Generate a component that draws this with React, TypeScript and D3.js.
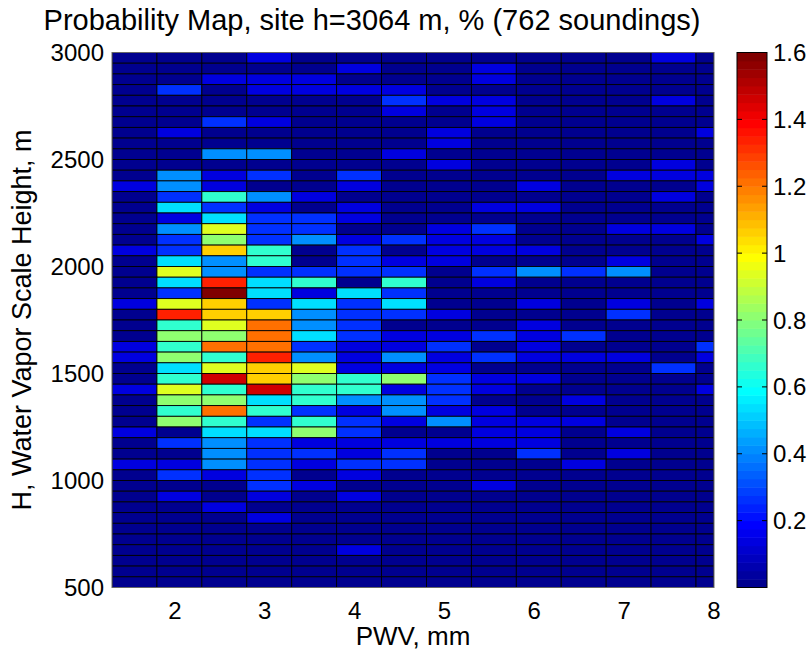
import React from 'react';
import * as d3 from 'd3';

// PWV bin left edges (mm), each bin 0.5 mm wide
const pwvEdges = [1.3, 1.8, 2.3, 2.8, 3.3, 3.8, 4.3, 4.8, 5.3, 5.8, 6.3, 6.8, 7.3, 7.8];
const pwvBinWidth = 0.5;
// Height bin upper edges (m), top row first; each bin 50 m tall
const heightTops = d3.range(3000, 500, -50);
const heightBinWidth = 50;

const xTicks = [2, 3, 4, 5, 6, 7, 8];
const yTicks = [500, 1000, 1500, 2000, 2500, 3000];
const cTicks = [0.2, 0.4, 0.6, 0.8, 1, 1.2, 1.4, 1.6];

const xDomain = [1.3, 8.0];
const yDomain = [500, 3000];
const cDomain = [0, 1.6];

const titleText = 'Probability Map, site h=3064 m, % (762 soundings)';
const xLabel = 'PWV, mm';
const yLabel = 'H, Water Vapor Scale Height, m';

// Probability (%) per cell; rows from 3000 m down to 500 m, columns by PWV bin
const probability: number[][] = [
  [0, 0, 0, .13, 0, 0, 0, 0, 0, 0, 0, 0, .13, 0],
  [0, 0, 0, 0, 0, .13, 0, 0, .13, 0, 0, 0, 0, 0],
  [0, 0, .13, .13, .13, 0, 0, 0, .13, 0, 0, 0, 0, 0],
  [0, .27, 0, .13, .13, .13, .13, 0, 0, 0, 0, 0, 0, 0],
  [0, 0, 0, 0, 0, 0, .27, .13, .13, 0, 0, 0, .13, 0],
  [0, 0, 0, 0, 0, 0, .13, 0, .13, 0, 0, 0, 0, 0],
  [0, 0, .27, .13, 0, 0, 0, 0, .13, 0, 0, 0, 0, 0],
  [0, .13, 0, 0, 0, 0, 0, .13, 0, 0, 0, 0, 0, .13],
  [0, 0, 0, 0, 0, 0, 0, .13, 0, 0, 0, 0, 0, 0],
  [0, 0, .4, .4, 0, 0, .13, 0, 0, 0, 0, 0, 0, 0],
  [0, 0, 0, 0, 0, 0, 0, .13, 0, 0, 0, 0, .13, 0],
  [0, .4, .13, .27, 0, .27, 0, 0, 0, 0, 0, .13, .13, .13],
  [.13, .4, .13, 0, 0, .13, 0, 0, 0, .13, 0, 0, 0, .13],
  [0, .27, .67, .4, .13, 0, 0, 0, 0, 0, 0, 0, .13, 0],
  [0, .53, .27, .13, 0, .13, 0, 0, .13, .13, 0, 0, 0, 0],
  [0, .13, .53, .27, .27, .13, 0, 0, 0, 0, 0, 0, 0, 0],
  [0, .4, .93, .27, .27, 0, 0, .13, .27, 0, 0, .13, .13, 0],
  [0, .27, .8, .27, .4, .13, .27, .13, .13, 0, 0, 0, 0, .13],
  [.13, .27, 1.07, .67, 0, .27, 0, .13, .13, .13, 0, 0, 0, 0],
  [0, .53, .4, .67, 0, .27, .13, .13, 0, 0, 0, .13, 0, 0],
  [0, .93, .4, .27, .27, .27, .27, 0, .27, .4, .27, .4, 0, 0],
  [0, .53, 1.33, .53, .67, 0, .67, 0, .13, 0, 0, 0, 0, 0],
  [0, .27, 1.6, .53, .13, .53, .27, 0, 0, 0, 0, 0, 0, 0],
  [.13, .93, 1.07, .27, .53, .27, .53, 0, 0, .13, 0, .13, 0, .13],
  [0, 1.33, 1.07, 1.07, .4, .27, .27, .13, 0, 0, 0, .27, 0, 0],
  [0, .67, .93, 1.2, .4, .27, 0, 0, 0, .13, 0, 0, 0, 0],
  [0, .8, .8, 1.2, .53, .27, .13, .13, .27, .13, .27, 0, 0, 0],
  [.13, .67, 1.2, 1.2, .27, .13, .13, .27, 0, .13, 0, 0, 0, .27],
  [.13, .8, .67, 1.33, .4, .13, .4, .13, .27, .13, .13, .13, 0, .13],
  [0, .53, .93, 1.07, .93, .13, .13, .13, 0, 0, 0, 0, .27, 0],
  [0, .67, 1.47, 1.07, .8, .67, .8, .27, .13, .13, 0, 0, 0, 0],
  [.13, .93, .67, 1.47, .67, .67, .13, .27, .13, 0, 0, 0, 0, .13],
  [0, .8, .8, .53, .67, .4, .4, .27, 0, 0, .13, 0, 0, 0],
  [0, .67, 1.2, .67, .27, .13, .4, .13, .13, 0, 0, 0, 0, 0],
  [0, .8, .67, .27, .67, .27, .13, .4, .13, .13, .13, 0, 0, 0],
  [.13, 0, .53, .53, .8, .27, 0, 0, .13, .13, 0, .13, 0, 0],
  [0, .27, .4, .27, .13, .13, .13, .13, .13, .13, 0, 0, 0, 0],
  [0, 0, .4, .27, .27, .13, .27, 0, 0, .27, 0, .13, 0, 0],
  [.13, .13, .4, .27, .13, .27, .27, 0, 0, 0, .13, 0, 0, 0],
  [0, .27, .13, .27, 0, .13, 0, 0, 0, 0, 0, 0, 0, 0],
  [0, 0, 0, .27, .13, 0, 0, 0, .13, 0, 0, 0, 0, 0],
  [0, .13, 0, .13, 0, .13, 0, 0, 0, 0, 0, 0, 0, 0],
  [0, 0, .13, 0, 0, 0, 0, 0, 0, 0, 0, 0, 0, 0],
  [0, 0, 0, .13, 0, 0, 0, 0, 0, 0, 0, 0, 0, 0],
  [0, 0, 0, 0, 0, 0, 0, 0, 0, 0, 0, 0, 0, 0],
  [0, 0, 0, 0, 0, 0, 0, 0, 0, 0, 0, 0, 0, 0],
  [0, 0, 0, 0, 0, .13, 0, 0, 0, 0, 0, 0, 0, 0],
  [0, 0, 0, 0, 0, 0, 0, 0, 0, 0, 0, 0, 0, 0],
  [0, 0, 0, 0, 0, 0, 0, 0, 0, 0, 0, 0, 0, 0],
  [0, 0, 0, 0, 0, 0, 0, 0, 0, 0, 0, 0, 0, 0],
];

// MATLAB jet(64)
function jet(m: number): string[] {
  const n = Math.ceil(m / 4);
  const u: number[] = [];
  for (let i = 1; i <= n; i++) u.push(i / n);
  for (let i = 1; i < n; i++) u.push(1);
  for (let i = n; i >= 1; i--) u.push(i / n);
  const gOff = Math.ceil(n / 2) - (m % 4 === 1 ? 1 : 0);
  const J = Array.from({ length: m }, () => [0, 0, 0]);
  u.forEach((val, k) => {
    const g = gOff + k + 1;
    const r = g + n;
    const b = g - n;
    if (r >= 1 && r <= m) J[r - 1][0] = val;
    if (g >= 1 && g <= m) J[g - 1][1] = val;
    if (b >= 1 && b <= m) J[b - 1][2] = val;
  });
  return J.map(([r, g, b]) => d3.rgb(r * 255, g * 255, b * 255).formatHex());
}
const JET = jet(64);
function colorOf(v: number): string {
  let idx = Math.floor(((v - cDomain[0]) / (cDomain[1] - cDomain[0])) * 64 + 1e-9);
  idx = Math.max(0, Math.min(63, idx));
  return JET[idx];
}

const FONT = '"Liberation Sans", Arial, Helvetica, sans-serif';

export default function App() {
  const x = d3.scaleLinear().domain(xDomain).range([112, 714]);
  const y = d3.scaleLinear().domain(yDomain).range([587.5, 52.5]);
  const cy = d3.scaleLinear().domain(cDomain).range([587.5, 52.5]);
  const cbL = 737, cbR = 767;

  const cells: JSX.Element[] = [];
  probability.forEach((row, ri) => {
    const top = heightTops[ri];
    row.forEach((v, ci) => {
      const x0 = pwvEdges[ci];
      const x1 = Math.min(x0 + pwvBinWidth, xDomain[1]);
      cells.push(
        <rect key={`${ri}-${ci}`} x={x(x0)} y={y(top)} width={x(x1) - x(x0)}
          height={y(top - heightBinWidth) - y(top)} fill={colorOf(v)}
          stroke="#000" strokeWidth={0.9} />
      );
    });
  });

  const bands = d3.range(64).map(i => {
    const v0 = cDomain[0] + (i * (cDomain[1] - cDomain[0])) / 64;
    const v1 = cDomain[0] + ((i + 1) * (cDomain[1] - cDomain[0])) / 64;
    return <rect key={i} x={cbL} y={cy(v1)} width={cbR - cbL} height={cy(v0) - cy(v1) + 0.5} fill={JET[i]} />;
  });

  return (
    <svg width={810} height={659} style={{ position: 'absolute', left: 0, top: 0, background: '#fff' }}
      fontFamily={FONT}>
      <rect x={0} y={0} width={810} height={659} fill="#fff" />
      <defs>
        <clipPath id="plotClip">
          <rect x={112} y={52.5} width={602} height={535} />
        </clipPath>
      </defs>
      <g clipPath="url(#plotClip)">{cells}</g>
      <rect x={112} y={52.5} width={602} height={535} fill="none" stroke="#666" strokeWidth={1} />

      {yTicks.map(t => (
        <text key={t} x={104} y={y(t)} textAnchor="end" dominantBaseline="central" fontSize={24}>{t}</text>
      ))}
      {xTicks.map(t => (
        <text key={t} x={x(t)} y={610} textAnchor="middle" dominantBaseline="central" fontSize={24}>{t}</text>
      ))}

      <text x={413} y={636} textAnchor="middle" dominantBaseline="central" fontSize={26}>{xLabel}</text>
      <text transform={`translate(22,320) rotate(-90)`} textAnchor="middle" dominantBaseline="central" fontSize={27}>{yLabel}</text>
      <text x={372} y={20} textAnchor="middle" dominantBaseline="central" fontSize={29}>{titleText}</text>

      {bands}
      {cTicks.map(t => (
        <g key={t}>
          <line x1={cbL} x2={cbL + 5} y1={cy(t)} y2={cy(t)} stroke="#000" strokeWidth={1} />
          <line x1={cbR - 5} x2={cbR} y1={cy(t)} y2={cy(t)} stroke="#000" strokeWidth={1} />
          <text x={773} y={cy(t)} dominantBaseline="central" fontSize={24}>{t}</text>
        </g>
      ))}
      <rect x={cbL} y={52.5} width={cbR - cbL} height={535} fill="none" stroke="#000" strokeWidth={1} />
    </svg>
  );
}
